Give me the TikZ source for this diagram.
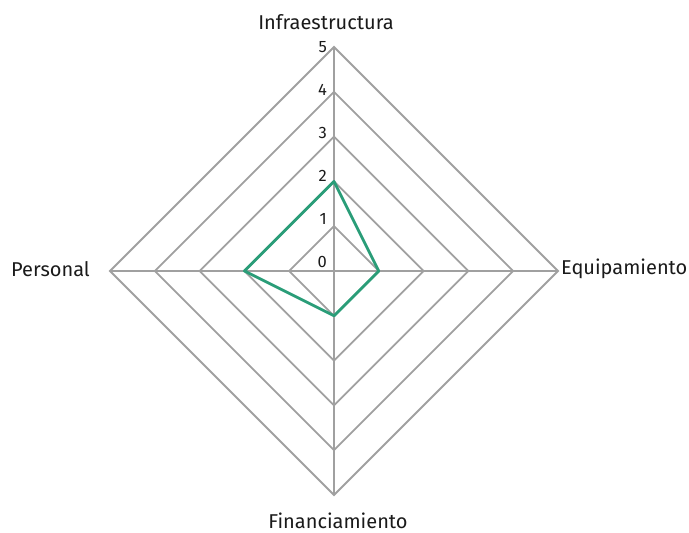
\documentclass[tikz,border=0pt]{standalone}
\usepackage{fontspec}
\setmainfont{Fira Sans}
\definecolor{gridc}{HTML}{A0A0A0}
\definecolor{datac}{HTML}{2A9D78}
\definecolor{textc}{HTML}{1A1A1A}
\begin{document}
\begin{tikzpicture}[x=1pt,y=-1pt,
  gridline/.style={draw=gridc,line width=1.8pt},
  dataline/.style={draw=datac,line width=2.8pt,line join=round},
  axlabel/.style={font=\fontsize{20}{22}\selectfont,text=textc,inner sep=0pt},
  ticklabel/.style={font=\fontsize{16.5}{18}\selectfont,text=textc,inner sep=0pt,anchor=east}]
\useasboundingbox (0,0) rectangle (689,533);
\def\cx{334}\def\cy{271}\def\lv{44.8}
\coordinate (c) at (\cx,\cy);
\foreach \i in {1,...,5}{
  \coordinate (t\i) at (\cx,\cy-\i*\lv);
  \coordinate (r\i) at (\cx+\i*\lv,\cy);
  \coordinate (b\i) at (\cx,\cy+\i*\lv);
  \coordinate (l\i) at (\cx-\i*\lv,\cy);
  \draw[gridline] (t\i) -- (r\i) -- (b\i) -- (l\i) -- cycle;
}
\draw[gridline] (t5) -- (b5);
\draw[gridline] (l5) -- (r5);
\foreach \i in {0,...,5}{
  \node[ticklabel] (tk\i) at (\cx-7,262-43*\i) {\i};
}
\node[axlabel,anchor=south] (ninf) at (\cx-8,30) {Infraestructura};
\node[axlabel,anchor=west] (nequ) at (561,269) {Equipamiento};
\node[axlabel,anchor=north] (nfin) at (\cx+4,513) {Financiamiento};
\node[axlabel,anchor=east] (nper) at (90,269) {Personal};
\draw[dataline] (t2) -- (r1) -- (b1) -- (l2) -- cycle;
\end{tikzpicture}
\end{document}
